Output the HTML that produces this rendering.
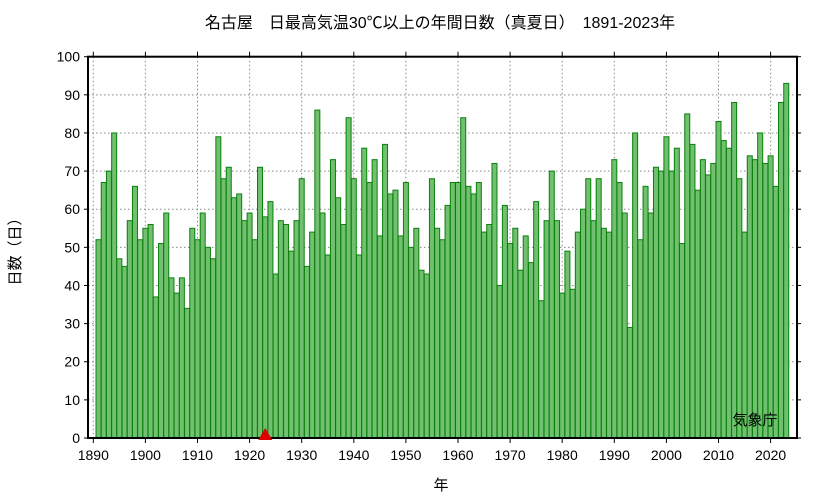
<!DOCTYPE html>
<html><head><meta charset="utf-8"><style>
body{margin:0;background:#fff;}
svg text{font-family:"Liberation Sans","Noto Sans CJK JP",sans-serif;fill:#000;}
</style></head><body>
<svg id="chart" width="833" height="498" xmlns="http://www.w3.org/2000/svg">
<text x="440" y="28" text-anchor="middle" font-size="16">名古屋　日最高気温30℃以上の年間日数（真夏日）　1891-2023年</text>
<g id="grid"></g><g id="bars"></g><g id="axes"></g>
<text transform="translate(20,248) rotate(-90)" text-anchor="middle" font-size="15">日数（日）</text>
<text x="441" y="490" text-anchor="middle" font-size="15">年</text>
<text x="755" y="425" text-anchor="middle" font-size="15">気象庁</text>
</svg>
<script>
const startYear = 1891;
const days = [52,67,70,80,47,45,57,66,52,55,56,37,51,59,42,38,42,34,55,52,59,50,47,79,68,71,63,64,57,59,52,71,58,62,43,57,56,49,57,68,45,54,86,59,48,73,63,56,84,68,48,76,67,73,53,77,64,65,53,67,50,55,44,43,68,55,52,61,67,67,84,66,64,67,54,56,72,40,61,51,55,44,53,46,62,36,57,70,57,38,49,39,54,60,68,57,68,55,54,73,67,59,29,80,52,66,59,71,70,79,70,76,51,85,77,65,73,69,72,83,78,76,88,68,54,74,73,80,72,74,66,88,93];
const yTicks = [0,10,20,30,40,50,60,70,80,90,100];
const xTicks = [1890,1900,1910,1920,1930,1940,1950,1960,1970,1980,1990,2000,2010,2020];
const markerYear = 1923;
const L=88,R=797,T=56.7,B=438;
const x = y => 93.3 + (y-1890)*5.21;
const yv = v => B - v*(B-T)/100;
const NS="http://www.w3.org/2000/svg";
function mk(tag,attrs,parent){const e=document.createElementNS(NS,tag);for(const k in attrs)e.setAttribute(k,attrs[k]);parent.appendChild(e);return e;}
const grid=document.getElementById('grid'),bars=document.getElementById('bars'),axes=document.getElementById('axes');
yTicks.forEach(t=>{
  if(t>0&&t<100){const g=mk('line',{x1:L,x2:R,y1:yv(t),y2:yv(t),stroke:'#888','stroke-dasharray':'1.5,2.5','stroke-width':1},grid);
  
  }
  const tk=mk('line',{x1:L-4,x2:L,y1:yv(t),y2:yv(t),stroke:'#000'},axes);
  
  
  const tk2=mk('line',{x1:R,x2:R+4,y1:yv(t),y2:yv(t),stroke:'#000'},axes);
  
  
  const lb=mk('text',{x:L-8,y:yv(t)+5,'text-anchor':'end','font-size':14},axes);lb.textContent=t;
  
  
});
xTicks.forEach(t=>{
  const g=mk('line',{x1:x(t),x2:x(t),y1:T,y2:B,stroke:'#888','stroke-dasharray':'1.5,2.5'},grid);
  
  
  const tk=mk('line',{x1:x(t),x2:x(t),y1:B,y2:B+5,stroke:'#000'},axes);
  
  
  const tk2=mk('line',{x1:x(t),x2:x(t),y1:T-5,y2:T,stroke:'#000'},axes);
  
  
  const lb=mk('text',{x:x(t),y:B+22,'text-anchor':'middle','font-size':14},axes);lb.textContent=t;
  
  
});
days.forEach((v,i)=>{
  const yr=startYear+i, cx=x(yr);
  const b=mk('rect',{x:cx-2.5,y:yv(v),width:5,height:B-yv(v),fill:'#70c070',stroke:'#0a800a','stroke-width':1},bars);
  
  
});
const fr=mk('rect',{x:L,y:T,width:R-L,height:B-T,fill:'none',stroke:'#000','stroke-width':2},axes);


const mx=x(markerYear);
const tri=mk('polygon',{points:`${mx-7},${B+2} ${mx+7},${B+2} ${mx},${B-10}`,fill:'#e00000'},axes);


</script>
</body></html>
